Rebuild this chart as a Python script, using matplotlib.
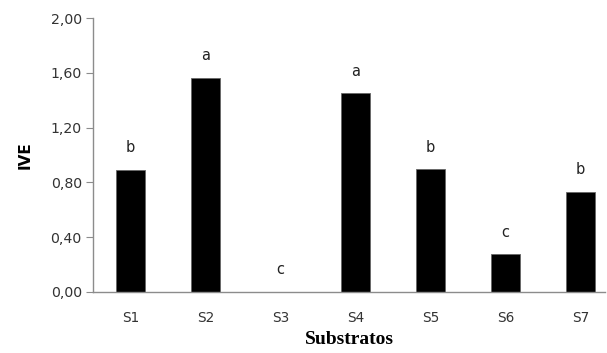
import matplotlib.pyplot as plt
from matplotlib.ticker import FuncFormatter

# data
substratos = ['S1', 'S2', 'S3', 'S4', 'S5', 'S6', 'S7']
ive = [0.89, 1.565, 0.0, 1.45, 0.895, 0.275, 0.728]
letras = ['b', 'a', 'c', 'a', 'b', 'c', 'b']
yticks = [0.0, 0.4, 0.8, 1.2, 1.6, 2.0]

fig = plt.figure(figsize=(6.07, 3.53), dpi=100)
ax = fig.add_axes([0.153, 0.173, 0.844, 0.776])

pos = list(range(len(substratos)))
ax.bar(pos, ive, width=0.39, color='black', edgecolor='#666666', linewidth=0.6)

for x, v, l in zip(pos, ive, letras):
    ax.annotate(l, (x, v), xytext=(0, 16), textcoords='offset points',
                ha='center', va='center', fontsize=10.5, color='#222222')

ax.set_xlim(-0.5, 6.33)
ax.set_ylim(0, 2.0)
ax.set_yticks(yticks)
ax.yaxis.set_major_formatter(FuncFormatter(lambda v, p: f'{v:.2f}'.replace('.', ',')))
ax.set_xticks(pos)
ax.set_xticklabels(substratos)

for s in ['top', 'right']:
    ax.spines[s].set_visible(False)
for s in ['left', 'bottom']:
    ax.spines[s].set_color('#8c8c8c')
    ax.spines[s].set_linewidth(1.0)

ax.tick_params(axis='y', length=5, color='#8c8c8c', labelsize=10.2,
               labelcolor='#333333', pad=3)
ax.tick_params(axis='x', length=0, labelsize=9.8, labelcolor='#333333', pad=14)

ax.set_ylabel('IVE', fontsize=11, fontweight='bold', labelpad=13)
ax.set_xlabel('Substratos', fontsize=14, fontweight='bold',
              family='Liberation Serif', labelpad=4)

fig.savefig('out.png', dpi=100)
